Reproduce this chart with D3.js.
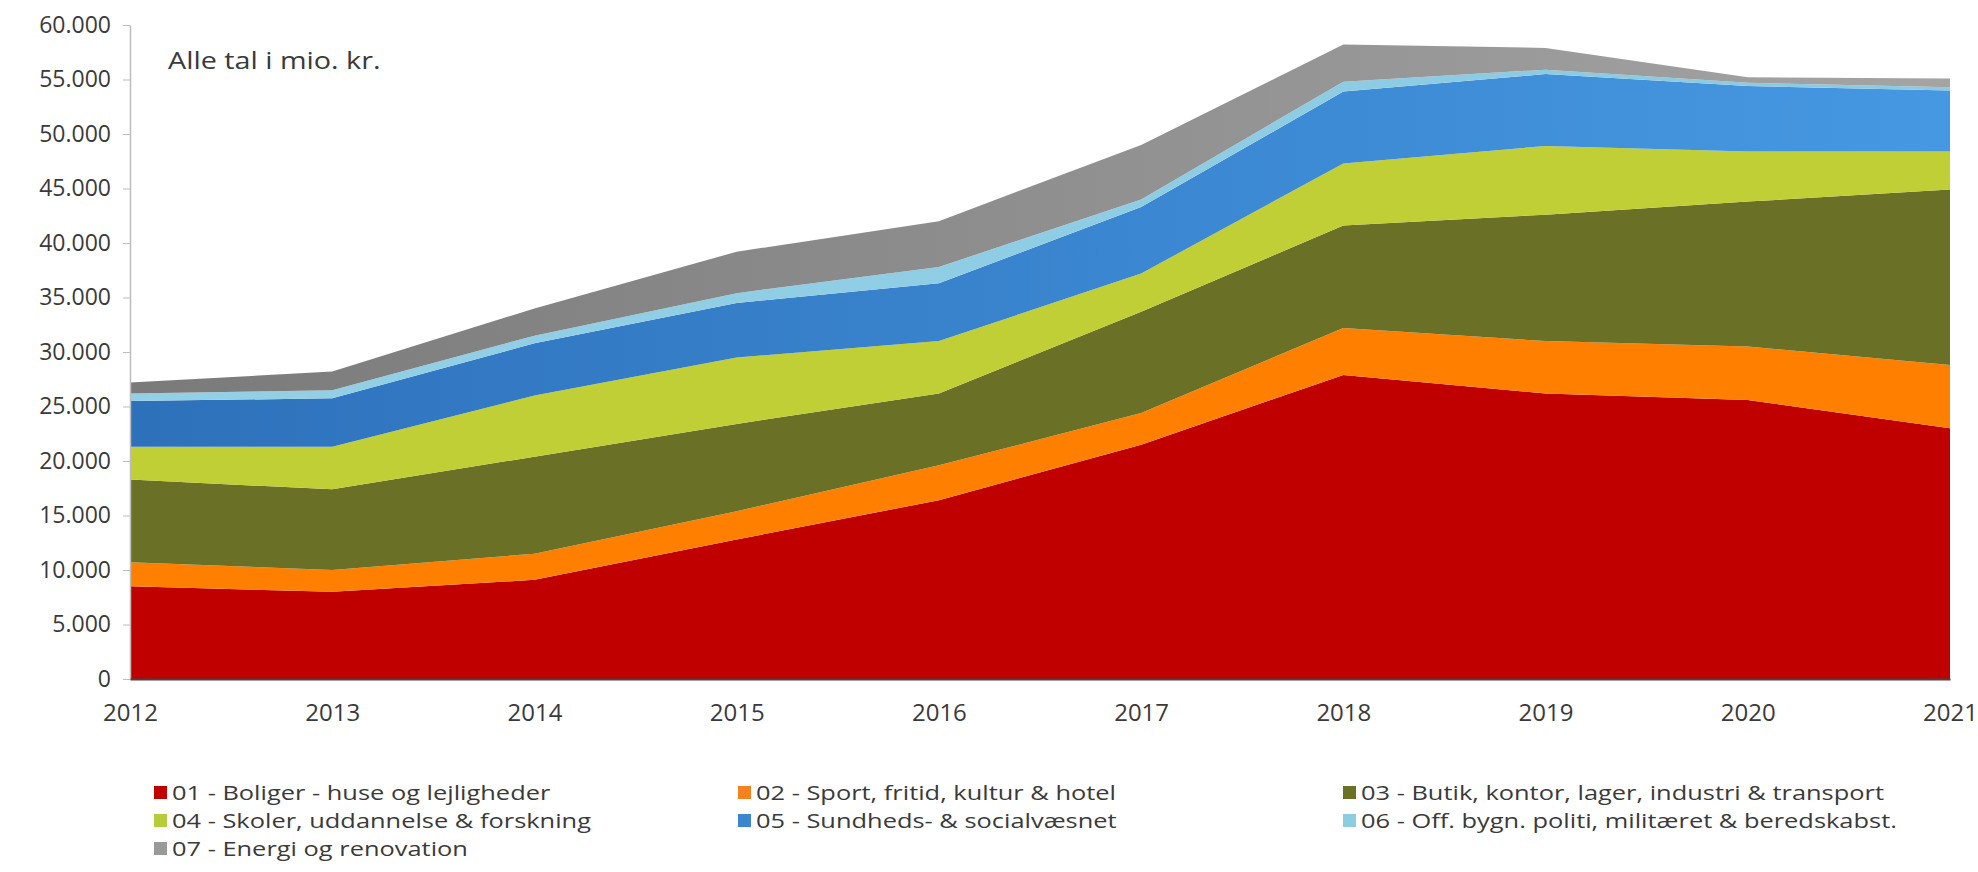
<!DOCTYPE html>
<html><head><meta charset="utf-8">
<script src="https://cdn.jsdelivr.net/npm/d3@7"></script>
<style>body{margin:0;background:#fff}svg text{font-family:"Open Sans",sans-serif;fill:#3a3a3a}</style>
</head><body>
<svg id="c" width="1978" height="872"></svg>
<script>
const years = [2012,2013,2014,2015,2016,2017,2018,2019,2020,2021];
const seriesNames = [
  "01 - Boliger - huse og lejligheder",
  "02 - Sport, fritid, kultur & hotel",
  "03 - Butik, kontor, lager, industri & transport",
  "04 - Skoler, uddannelse & forskning",
  "05 - Sundheds- & socialvæsnet",
  "06 - Off. bygn. politi, militæret & beredskabst.",
  "07 - Energi og renovation"
];
const boliger   = [8500, 8000, 9100, 12800, 16400, 21500, 27900, 26200, 25600, 23000];
const sport     = [2200, 2000, 2400, 2600, 3200, 2900, 4300, 4800, 4900, 5800];
const butik     = [7600, 7400, 8900, 8000, 6600, 9300, 9400, 11600, 13300, 16100];
const skoler    = [3000, 3900, 5600, 6100, 4800, 3500, 5700, 6300, 4600, 3500];
const sundhed   = [4200, 4450, 4800, 5000, 5300, 6100, 6600, 6600, 6000, 5600];
const offentlig = [700, 750, 700, 900, 1500, 700, 900, 400, 300, 300];
const energi    = [1000, 1700, 2500, 3800, 4200, 5000, 3400, 2000, 500, 800];
const yTicks = [0,5000,10000,15000,20000,25000,30000,35000,40000,45000,50000,55000,60000];
const note = "Alle tal i mio. kr.";

(function(){
const seriesValues = [boliger, sport, butik, skoler, sundhed, offentlig, energi];
const keys = seriesNames.map((d,i)=>"s"+i);
const table = years.map((yr,j)=>{const o={year:yr}; keys.forEach((k,i)=>o[k]=seriesValues[i][j]); return o;});

const svg = d3.select("#c");
const pl=130, pr=1950, pt=25, pb=679;
const x = d3.scaleLinear().domain([2012,2021]).range([pl,pr]);
const y = d3.scaleLinear().domain([0,60000]).range([pb,pt]);

const defs = svg.append("defs");
function grad(id, c1, c2){
  const g = defs.append("linearGradient").attr("id",id).attr("gradientUnits","userSpaceOnUse")
    .attr("x1",pl).attr("x2",pr).attr("y1",0).attr("y2",0);
  g.append("stop").attr("offset","0%").attr("stop-color",c1);
  g.append("stop").attr("offset","100%").attr("stop-color",c2);
}
grad("gBlue","#2E71BB","#4698E2");
grad("gGray","#7A7A7A","#A4A4A4");
grad("gLb","#93D0E6","#8ACAE2");
const fills = ["#C00000","#FF8000","#6A7126","#C0CF35","url(#gBlue)","url(#gLb)","url(#gGray)"];
const swatch = ["#C00000","#F58220","#6A7126","#B7CC3A","#3B86CC","#8DCDE0","#999999"];

const layers = d3.stack().keys(keys)(table);
const area = d3.area().x(d=>x(d.data.year)).y0(d=>y(d[0])).y1(d=>y(d[1]));
svg.append("g").selectAll("path").data(layers).join("path")
  .attr("d",area).attr("fill",(d,i)=>fills[i]);

const loc = d3.formatLocale({thousands:".",decimal:",",grouping:[3],currency:["",""]});
const fmt = loc.format(",d");

const ya = svg.append("g").attr("transform",`translate(${pl},0)`)
  .call(d3.axisLeft(y).tickValues(yTicks).tickFormat(fmt).tickSizeOuter(0).tickSizeInner(7).tickPadding(12));
ya.select(".domain").attr("stroke","#BDBDBD").attr("stroke-width",1.5);
ya.selectAll(".tick line").attr("stroke","#BDBDBD");
ya.selectAll("text").style("font-size","23px").attr("fill","#3a3a3a");

const xa = svg.append("g").attr("transform",`translate(0,${pb})`)
  .call(d3.axisBottom(x).tickValues(years).tickFormat(d3.format("d")).tickSize(0).tickPadding(25).tickSizeOuter(0));
xa.select(".domain").attr("stroke","#444").attr("stroke-width",2);
xa.selectAll("text").style("font-size","24px").attr("fill","#3a3a3a");

svg.append("text").attr("transform","translate(168,69) scale(1.25,1)").style("font-size","23px")
  .attr("fill","#3a3a3a").text(note);

const legX = [154, 738, 1343], legY = [792, 820, 848];
const leg = svg.append("g").selectAll("g").data(seriesNames).join("g")
  .attr("transform",(d,i)=>`translate(${legX[i%3]},${legY[Math.floor(i/3)]})`);
leg.append("rect").attr("x",0).attr("y",-6).attr("width",13).attr("height",13).attr("fill",(d,i)=>swatch[i]);
leg.append("text").attr("transform","translate(18,1) scale(1.24,1)").attr("dy","0.35em")
  .style("font-size","20.5px").attr("fill","#3a3a3a").text(d=>d);
})();
</script>
</body></html>
